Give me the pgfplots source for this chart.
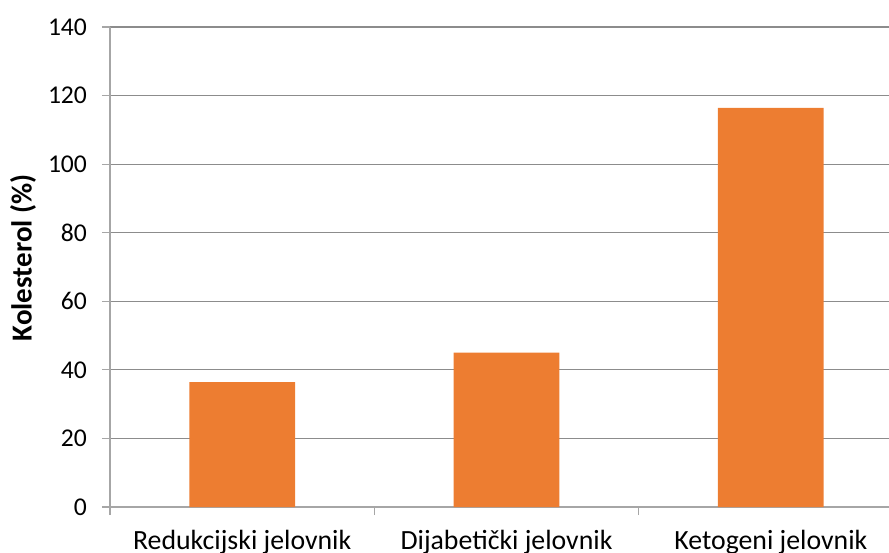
\documentclass[border=0pt]{standalone}
\usepackage{pgfplots}
\pgfplotsset{compat=1.18}
\usepackage{fontspec}
\setmainfont{Carlito}
\definecolor{barorange}{HTML}{ED7D31}
\definecolor{gridgray}{HTML}{8C8C8C}
\definecolor{axisgray}{HTML}{A6A6A6}

\begin{document}
\begin{tikzpicture}
\begin{axis}[
    name=ax,
    scale only axis,
    width=389.5pt, height=240pt,
    xmin=-0.5, xmax=2.447,
    ymin=0, ymax=140,
    ytick={0,20,...,140},
    xtick={0,1,2},
    xticklabels={Redukcijski jelovnik, Dijabetički jelovnik, Ketogeni jelovnik},
    minor xtick={-0.5,0.5,1.5},
    major x tick style={draw=none},
    minor tick length=4pt,
    major tick length=4pt,
    tick align=outside,
    axis lines*=left,
    axis line style={axisgray, line width=0.6pt},
    every tick/.style={axisgray, line width=0.6pt},
    ymajorgrids=true,
    grid style={gridgray, line width=0.6pt},
    /pgf/number format/assume math mode=true,
    yticklabel style={font=\fontsize{12.8pt}{15pt}\selectfont, xshift=-4pt},
    xticklabel style={font=\fontsize{13.9pt}{16pt}\selectfont, yshift=-4pt},
    ylabel={\textbf{Kolesterol (\%)}},
    every axis y label/.style={at={(axis description cs:-0.1117,0.519)}, rotate=90, anchor=center,
        font=\fontsize{14.5pt}{17pt}\selectfont},
    clip=false,
]
\addplot[ybar, bar width=0.4, fill=barorange, draw=none]
    coordinates {(0,36.4) (1,45.0) (2,116.4)};
\end{axis}
\pgfresetboundingbox
\path[use as bounding box] ([shift={(-55pt,-22.5pt)}]ax.south west) rectangle ([shift={(389.5pt,253.5pt)}]ax.south west);
\end{tikzpicture}
\end{document}
